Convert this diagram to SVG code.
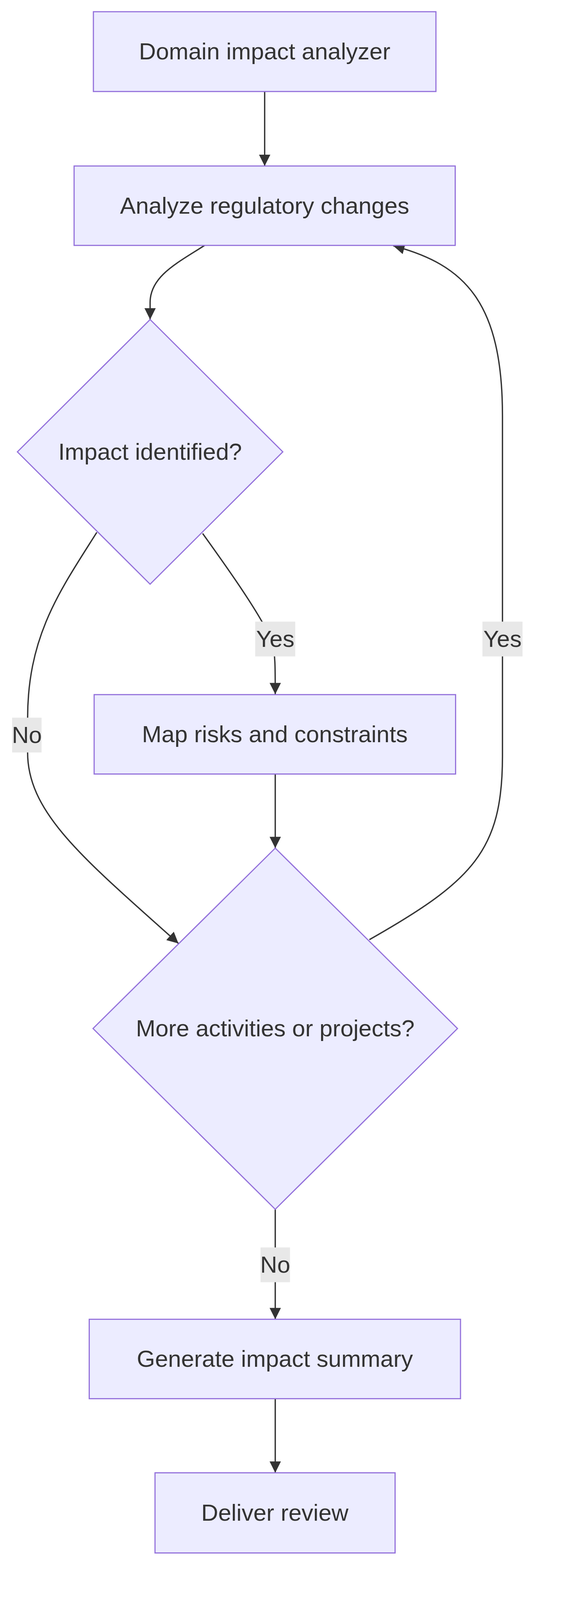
<svg xmlns="http://www.w3.org/2000/svg" width="1444" height="4232" viewBox="0 0 1444 4232">
<style>
.n{fill:#ECECFF;stroke:#9370DB;stroke-width:3}
.t{font-family:"Liberation Sans",Arial,sans-serif;font-size:62px;fill:#333333;text-anchor:middle;dominant-baseline:central}
.e{fill:none;stroke:#333333;stroke-width:3.5;marker-end:url(#a)}
.lb{fill:#e8e8e8}
</style>
<defs>
<marker id="a" markerUnits="userSpaceOnUse" viewBox="0 0 10 10" refX="10" refY="5" markerWidth="30" markerHeight="30" orient="auto">
<path d="M0,0 L10,5 L0,10 z" fill="#333333"/>
</marker>
</defs>
<rect width="1444" height="4232" fill="#ffffff"/>
<g transform="scale(0.968)">
<g id="edges">
<path class="e" d="M700,242 L700,439"/>
<path class="e" d="M541,649 C470,695 397,730 397,800 L397,845"/>
<path class="e" d="M536,1411 C600,1500 700,1640 720,1700 C728,1730 728,1760 728,1836"/>
<path class="e" d="M256,1408 C160,1560 73,1680 73,1900 L73,1990 C73,2150 220,2270 472,2495"/>
<path class="e" d="M728,2047 L728,2243"/>
<path class="e" d="M977,2485 C1250,2330 1329,2250 1329,2000 L1329,1100 C1329,800 1230,700 1040,650"/>
<path class="e" d="M728,3198 L728,3489"/>
<path class="e" d="M728,3699 L728,3895"/>
<rect class="lb" x="675" y="1644" width="106" height="92"/><text class="t" x="728" y="1690">Yes</text>
<rect class="lb" x="1276" y="1644" width="106" height="92"/><text class="t" x="1329" y="1690">Yes</text>
<rect class="lb" x="32" y="1898" width="78" height="92"/><text class="t" x="71" y="1944">No</text>
<rect class="lb" x="689" y="3299" width="78" height="92"/><text class="t" x="728" y="3345">No</text>
</g>
<g id="n1"><rect class="n" x="247" y="31" width="906" height="211"/><text class="t" x="700" y="136">Domain impact analyzer</text></g>
<g id="n2"><rect class="n" x="196" y="439" width="1008" height="210"/><text class="t" x="700" y="544">Analyze regulatory changes</text></g>
<g id="n3"><polygon class="n" points="397,845 748,1195 397,1545 46,1195"/><text class="t" x="397" y="1195">Impact identified?</text></g>
<g id="n4"><rect class="n" x="249" y="1837" width="956" height="210"/><text class="t" x="727" y="1942">Map risks and constraints</text></g>
<g id="n5"><polygon class="n" points="728,2243 1210,2720 728,3198 246,2720"/><text class="t" x="728" y="2720">More activities or projects?</text></g>
<g id="n6"><rect class="n" x="236" y="3489" width="982" height="210"/><text class="t" x="727" y="3594">Generate impact summary</text></g>
<g id="n7"><rect class="n" x="410" y="3895" width="635" height="212"/><text class="t" x="727" y="4001">Deliver review</text></g>
</g>
</svg>
